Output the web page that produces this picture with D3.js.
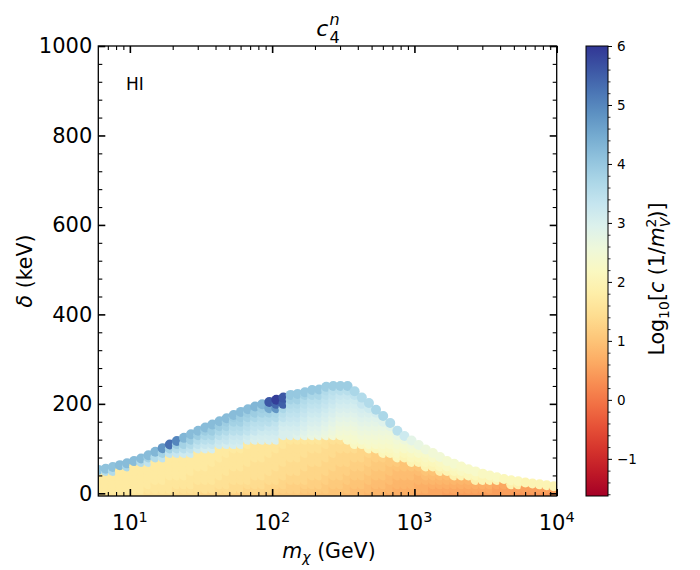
<!doctype html>
<html>
<head>
<meta charset="UTF-8">
<script src="https://d3js.org/d3.v7.min.js"></script>
<title>c4n</title>
<style>
    body { margin: 0; background: #fff; }
    text { font-family: "DejaVu Sans", sans-serif; fill: #000; }
    .it { font-style: italic; }
</style>
</head>
<body>
<div id="chart"></div>
<script>
// dark matter masses (GeV), one column of points each
var masses = [6.03, 6.76, 7.59, 8.51, 9.55, 10.7, 12.0, 13.5, 15.1, 17.0,
    19.1, 21.4, 24.0, 26.9, 30.2, 33.9, 38.0, 42.7, 47.9, 53.7,
    60.3, 67.6, 75.9, 85.1, 95.5, 107, 120, 135, 151, 170,
    191, 214, 240, 269, 302, 339, 380, 427, 479, 537,
    603, 676, 759, 851, 955, 1072, 1202, 1349, 1514, 1698,
    1905, 2138, 2399, 2692, 3020, 3388, 3802, 4266, 4786, 5370,
    6026, 6761, 7586, 8511, 9550];

// highest delta (keV) reached in each column
var topDelta = [52, 55, 59, 63, 67, 72, 78, 85, 93, 101,
    109, 117, 124, 132, 140, 147, 154, 161, 168, 175,
    182, 188, 194, 199, 204, 209, 214, 220, 222, 226,
    231, 232, 238, 240, 240, 240, 228, 214, 202, 187,
    173, 157, 140, 128, 118, 108, 98, 90, 81, 72,
    66, 60, 54, 49, 44, 40, 36, 32, 29, 27,
    24, 22, 20, 18, 16];

// log10 c per column: values at delta = 0, 10, 20, ... and the last one at topDelta
var deltaStep = 10;
var logc = [
    [1.6,1.7,1.7,1.7,1.7,4.1],
    [1.6,1.7,1.7,1.7,1.7,3.6,4.1],
    [1.6,1.7,1.7,1.7,1.7,3.6,4.1],
    [1.6,1.7,1.7,1.7,1.7,1.7,4.2],
    [1.6,1.7,1.7,1.7,1.7,1.7,3.7,4.2],
    [1.6,1.7,1.7,1.7,1.7,1.7,1.7,4.2],
    [1.6,1.7,1.7,1.7,1.7,1.7,1.7,3.6,4.2],
    [1.5,1.6,1.7,1.7,1.7,1.7,1.7,3.4,3.8,4.2],
    [1.5,1.6,1.6,1.7,1.7,1.7,1.7,1.7,3.6,4.3],
    [1.5,1.6,1.6,1.7,1.7,1.7,1.7,1.7,3.4,3.8,4.8],
    [1.5,1.6,1.6,1.6,1.7,1.7,1.7,1.7,1.7,3.4,3.8,5.3],
    [1.4,1.5,1.6,1.6,1.7,1.7,1.7,1.7,1.7,3.3,3.6,3.9,5.0],
    [1.4,1.5,1.6,1.6,1.7,1.7,1.7,1.7,1.7,3.2,3.5,3.8,4.3],
    [1.4,1.5,1.6,1.6,1.6,1.7,1.7,1.7,1.7,3.2,3.4,3.6,3.9,4.2],
    [1.4,1.5,1.5,1.6,1.6,1.6,1.7,1.7,1.7,1.7,3.2,3.4,3.6,3.9,4.2],
    [1.3,1.5,1.5,1.6,1.6,1.6,1.7,1.7,1.7,1.7,3.1,3.3,3.5,3.7,3.9,4.2],
    [1.3,1.5,1.5,1.6,1.6,1.6,1.6,1.7,1.7,1.7,3.1,3.3,3.5,3.7,3.9,4.2],
    [1.3,1.4,1.5,1.5,1.6,1.6,1.6,1.6,1.7,1.7,1.7,3.2,3.3,3.5,3.7,3.9,4.2],
    [1.3,1.4,1.5,1.5,1.5,1.6,1.6,1.6,1.6,1.7,1.7,3.1,3.3,3.4,3.6,3.8,3.9,4.2],
    [1.2,1.4,1.4,1.5,1.5,1.5,1.6,1.6,1.6,1.6,1.7,3.1,3.2,3.3,3.5,3.6,3.8,3.9,4.2],
    [1.2,1.4,1.4,1.5,1.5,1.5,1.6,1.6,1.6,1.6,1.7,3.1,3.2,3.3,3.5,3.6,3.8,3.9,4.2],
    [1.2,1.3,1.4,1.5,1.5,1.5,1.5,1.6,1.6,1.6,1.6,1.7,3.1,3.2,3.4,3.5,3.6,3.8,3.9,4.2],
    [1.2,1.3,1.4,1.4,1.5,1.5,1.5,1.5,1.6,1.6,1.6,1.6,3.0,3.1,3.3,3.4,3.5,3.7,3.9,4.3],
    [1.2,1.3,1.4,1.4,1.5,1.5,1.5,1.5,1.6,1.6,1.6,1.6,3.0,3.1,3.2,3.4,3.5,3.6,3.8,3.9,4.3],
    [1.1,1.3,1.3,1.4,1.4,1.5,1.5,1.5,1.5,1.6,1.6,1.6,3.0,3.1,3.2,3.3,3.5,3.6,3.8,4.5,5.6],
    [1.1,1.2,1.3,1.4,1.4,1.4,1.5,1.5,1.5,1.5,1.6,1.6,3.0,3.1,3.2,3.3,3.4,3.6,3.7,4.8,5.4,5.9],
    [1.1,1.2,1.3,1.3,1.4,1.4,1.4,1.5,1.5,1.5,1.5,1.6,1.6,3.0,3.0,3.1,3.2,3.4,3.5,3.7,5.5,5.6],
    [1.1,1.2,1.2,1.3,1.3,1.4,1.4,1.4,1.5,1.5,1.5,1.5,1.6,3.0,3.0,3.1,3.2,3.3,3.4,3.5,3.6,3.8,4.0],
    [1.1,1.2,1.2,1.3,1.3,1.4,1.4,1.4,1.5,1.5,1.5,1.5,1.6,2.9,3.0,3.1,3.2,3.3,3.4,3.5,3.6,3.8,4.0],
    [1.0,1.1,1.2,1.3,1.3,1.3,1.4,1.4,1.4,1.5,1.5,1.5,1.6,2.8,2.9,3.0,3.1,3.2,3.3,3.4,3.5,3.6,3.8,4.0],
    [1.0,1.1,1.2,1.2,1.3,1.3,1.3,1.4,1.4,1.4,1.5,1.5,1.6,2.7,2.8,2.9,3.0,3.1,3.2,3.3,3.4,3.5,3.7,4.0],
    [1.0,1.1,1.2,1.2,1.3,1.3,1.3,1.4,1.4,1.4,1.5,1.5,1.6,2.7,2.8,2.9,3.0,3.1,3.2,3.3,3.4,3.5,3.7,4.0],
    [1.0,1.1,1.1,1.2,1.2,1.3,1.3,1.3,1.4,1.4,1.4,1.5,1.5,2.6,2.7,2.8,2.9,3.0,3.1,3.2,3.3,3.4,3.5,3.6,3.9],
    [1.0,1.0,1.1,1.1,1.2,1.2,1.3,1.3,1.3,1.4,1.4,1.4,1.5,2.5,2.6,2.7,2.8,2.9,3.0,3.1,3.2,3.3,3.4,3.5,3.9],
    [1.0,1.0,1.1,1.1,1.2,1.2,1.2,1.3,1.3,1.3,1.4,1.4,1.5,2.4,2.5,2.6,2.7,2.8,2.9,3.0,3.1,3.2,3.3,3.5,3.9],
    [0.9,1.0,1.0,1.1,1.1,1.2,1.2,1.3,1.3,1.3,1.4,1.4,2.3,2.4,2.5,2.6,2.7,2.8,2.9,3.0,3.1,3.2,3.3,3.5,3.9],
    [0.9,0.9,1.0,1.0,1.1,1.1,1.2,1.2,1.3,1.3,1.4,2.2,2.3,2.4,2.5,2.6,2.7,2.8,2.9,3.0,3.1,3.2,3.4,3.7],
    [0.9,0.9,1.0,1.0,1.1,1.1,1.2,1.2,1.3,1.3,1.3,2.2,2.4,2.5,2.6,2.7,2.8,2.9,3.0,3.1,3.3,3.6],
    [0.8,0.9,0.9,1.0,1.0,1.1,1.1,1.2,1.2,1.3,2.1,2.3,2.4,2.5,2.6,2.7,2.8,2.9,3.0,3.2,3.6],
    [0.8,0.8,0.9,0.9,1.0,1.0,1.1,1.1,1.2,1.2,2.1,2.3,2.4,2.5,2.6,2.7,2.8,2.9,3.1,3.7],
    [0.8,0.8,0.9,0.9,1.0,1.0,1.1,1.1,1.2,2.1,2.2,2.3,2.4,2.5,2.6,2.7,2.9,3.7],
    [0.7,0.8,0.8,0.9,0.9,1.0,1.0,1.1,1.1,2.1,2.2,2.3,2.4,2.5,2.6,2.8,3.6],
    [0.7,0.7,0.8,0.8,0.9,0.9,1.0,1.1,2.1,2.2,2.3,2.4,2.5,2.7,3.5],
    [0.7,0.7,0.8,0.8,0.9,0.9,1.0,1.0,2.0,2.1,2.3,2.4,2.6,3.2],
    [0.7,0.7,0.8,0.8,0.9,0.9,1.0,2.0,2.1,2.2,2.4,2.5,2.8],
    [0.6,0.7,0.7,0.8,0.8,0.9,1.0,2.0,2.1,2.3,2.4,2.7],
    [0.6,0.7,0.7,0.8,0.9,1.0,2.0,2.1,2.2,2.3,2.6],
    [0.6,0.6,0.7,0.8,0.9,1.0,2.0,2.1,2.3,2.5],
    [0.6,0.6,0.7,0.8,0.9,1.9,2.1,2.2,2.5],
    [0.5,0.6,0.7,0.8,0.9,2.0,2.2,2.4],
    [0.5,0.6,0.7,0.8,1.9,2.1,2.2,2.4],
    [0.5,0.6,0.7,0.8,2.0,2.2,2.3],
    [0.5,0.6,0.7,0.8,2.1,2.3],
    [0.5,0.6,0.7,1.9,2.1,2.3],
    [0.5,0.6,0.7,2.0,2.2],
    [0.5,0.6,0.7,2.0,2.2],
    [0.5,0.5,0.6,2.0,2.2],
    [0.5,0.5,0.6,2.1],
    [0.5,0.5,1.9,2.1],
    [0.4,0.5,1.9,2.1],
    [0.4,0.5,2.0],
    [0.4,0.5,2.0],
    [0.4,0.5,2.0],
    [0.4,0.5,2.0],
    [0.4,0.5,2.0]
];

var xTicks = [10, 100, 1000, 10000];
var yTicks = [0, 200, 400, 600, 800, 1000];
var cbTicks = [-1, 0, 1, 2, 3, 4, 5, 6];
var cMin = -1.63, cMax = 6;

var w = 700, h = 570;
var pLeft = 98.3, pRight = 556.7, pTop = 46, pBottom = 496;
var cbLeft = 586, cbRight = 608;
var radius = 5.0;

var svg = d3.select("#chart").append("svg")
        .attr("width", w)
        .attr("height", h);

var x = d3.scaleLog().domain([6, 10000]).range([pLeft, pRight]);
var y = d3.scaleLinear().domain([-6, 1000]).range([pBottom, pTop]);
var color = d3.scaleSequential(d3.interpolateRdYlBu).domain([cMin, cMax]);
var yc = d3.scaleLinear().domain([cMin, cMax]).range([pBottom, pTop]);

// build points column by column, bottom to top (drawing order matters)
var points = [];
masses.forEach(function(m, i) {
    var vals = logc[i];
    for (var k = 0; k < vals.length - 1; k++) {
        points.push({m: m, d: k * deltaStep, v: vals[k]});
    }
    points.push({m: m, d: topDelta[i], v: vals[vals.length - 1]});
});

svg.append("clipPath").attr("id", "plotclip")
    .append("rect")
    .attr("x", pLeft).attr("y", pTop)
    .attr("width", pRight - pLeft).attr("height", pBottom - pTop);

svg.append("g")
    .attr("clip-path", "url(#plotclip)")
    .selectAll("circle")
    .data(points)
    .enter()
    .append("circle")
    .attr("cx", function(d) { return x(d.m); })
    .attr("cy", function(d) { return y(d.d); })
    .attr("r", radius)
    .attr("fill", function(d) { return color(d.v); });

// ticks, all pointing inward
function ticks(g, sw) {
    g.select(".domain").remove();
    g.selectAll(".tick line").attr("stroke", "#000").attr("stroke-width", sw);
    g.selectAll(".tick text").remove();
}

var xMinor = x.ticks().filter(function(v) {
    var e = Math.log10(v);
    return Math.abs(e - Math.round(e)) > 1e-6 && v > 6.5;
});
var yMinor = d3.range(40, 1000, 40).filter(function(v) { return v % 200 !== 0; });

[[d3.axisBottom, pBottom], [d3.axisTop, pTop]].forEach(function(a) {
    svg.append("g").attr("transform", "translate(0," + a[1] + ")")
        .call(a[0](x).tickValues(xTicks).tickSize(-7).tickSizeOuter(0))
        .call(ticks, 1.6);
    svg.append("g").attr("transform", "translate(0," + a[1] + ")")
        .call(a[0](x).tickValues(xMinor).tickSize(-4).tickSizeOuter(0))
        .call(ticks, 1.1);
});
[[d3.axisLeft, pLeft], [d3.axisRight, pRight]].forEach(function(a) {
    svg.append("g").attr("transform", "translate(" + a[1] + ",0)")
        .call(a[0](y).tickValues(yTicks).tickSize(-7).tickSizeOuter(0))
        .call(ticks, 1.6);
    svg.append("g").attr("transform", "translate(" + a[1] + ",0)")
        .call(a[0](y).tickValues(yMinor).tickSize(-4).tickSizeOuter(0))
        .call(ticks, 1.1);
});

svg.append("rect")
    .attr("x", pLeft).attr("y", pTop)
    .attr("width", pRight - pLeft).attr("height", pBottom - pTop)
    .attr("fill", "none").attr("stroke", "#000").attr("stroke-width", 1.3);

// tick labels
var xl = svg.selectAll(".xlab").data(xTicks).enter().append("text")
    .attr("class", "xlab")
    .attr("x", function(d) { return x(d); })
    .attr("y", 530)
    .attr("text-anchor", "middle")
    .style("font-size", "21px");
xl.append("tspan").text("10");
xl.append("tspan").attr("dy", -8.5).style("font-size", "14.5px")
    .text(function(d) { return Math.round(Math.log10(d)); });

svg.selectAll(".ylab").data(yTicks).enter().append("text")
    .attr("class", "ylab")
    .attr("x", pLeft - 6)
    .attr("y", function(d) { return y(d); })
    .attr("dy", "0.35em")
    .attr("text-anchor", "end")
    .style("font-size", "21px")
    .text(function(d) { return d; });

// axis labels
var xt = svg.append("text").attr("x", 329).attr("y", 558)
    .attr("text-anchor", "middle").style("font-size", "20.5px");
xt.append("tspan").attr("class", "it").text("m");
xt.append("tspan").attr("class", "it").attr("dy", 4).style("font-size", "14px").text("χ");
xt.append("tspan").attr("dy", -4).text(" (GeV)");

var yt = svg.append("text").attr("transform", "translate(32,271) rotate(-90)")
    .attr("text-anchor", "middle").style("font-size", "20.5px");
yt.append("tspan").attr("class", "it").text("δ");
yt.append("tspan").text(" (keV)");

// title
svg.append("text").attr("class", "it").attr("x", 316.3).attr("y", 36)
    .style("font-size", "22px").text("c");
svg.append("text").attr("x", 329.5).attr("y", 42.7).style("font-size", "16px").text("4");
svg.append("text").attr("class", "it").attr("x", 329.5).attr("y", 25).style("font-size", "16px").text("n");

svg.append("text").attr("x", 126).attr("y", 90).style("font-size", "17px").text("HI");

// colorbar
var grad = svg.append("defs").append("linearGradient")
    .attr("id", "cbgrad")
    .attr("x1", 0).attr("y1", 1).attr("x2", 0).attr("y2", 0);
d3.range(0, 1.0001, 0.05).forEach(function(t) {
    grad.append("stop").attr("offset", t)
        .attr("stop-color", color(cMin + t * (cMax - cMin)));
});
svg.append("rect")
    .attr("x", cbLeft).attr("y", pTop)
    .attr("width", cbRight - cbLeft).attr("height", pBottom - pTop)
    .attr("fill", "url(#cbgrad)")
    .attr("stroke", "#000").attr("stroke-width", 1);

var cbMinor = d3.range(-1.6, 6.001, 0.2).filter(function(v) {
    return Math.abs(v - Math.round(v)) > 1e-6;
});
svg.append("g").attr("transform", "translate(" + cbRight + ",0)")
    .call(d3.axisRight(yc).tickValues(cbTicks).tickSize(4).tickSizeOuter(0))
    .call(ticks, 1);
svg.append("g").attr("transform", "translate(" + cbRight + ",0)")
    .call(d3.axisRight(yc).tickValues(cbMinor).tickSize(2.5).tickSizeOuter(0))
    .call(ticks, 0.8);

svg.selectAll(".cblab").data(cbTicks).enter().append("text")
    .attr("class", "cblab")
    .attr("x", cbRight + 9)
    .attr("y", function(d) { return yc(d); })
    .attr("dy", "0.35em")
    .style("font-size", "13.5px")
    .text(function(d) { return d < 0 ? "\u2212" + (-d) : d; });

var ct = svg.append("text").attr("transform", "translate(664,279) rotate(-90)")
    .attr("text-anchor", "middle").style("font-size", "20.5px");
ct.append("tspan").text("Log");
ct.append("tspan").attr("dy", 4.5).style("font-size", "14px").text("10");
ct.append("tspan").attr("dy", -4.5).text("[");
ct.append("tspan").attr("class", "it").text("c");
ct.append("tspan").text(" (1/");
ct.append("tspan").attr("class", "it").text("m");
ct.append("tspan").attr("class", "it").attr("dy", 5.5).style("font-size", "14px").text("V");
ct.append("tspan").attr("dx", -9.6).attr("dy", -14).style("font-size", "14px").text("2");
ct.append("tspan").attr("dy", 8.5).text(")]");
</script>
</body>
</html>
